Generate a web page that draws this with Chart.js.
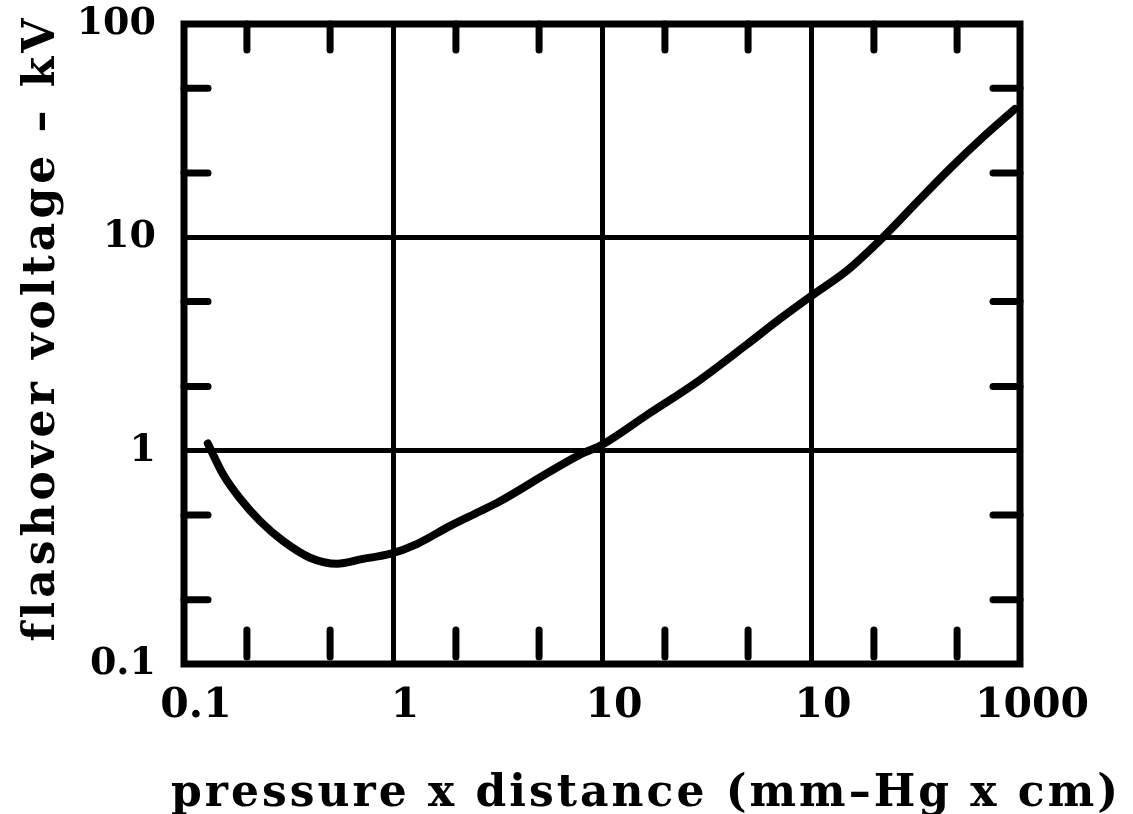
<!DOCTYPE html>
<html>
<head>
<meta charset="utf-8">
<script src="https://cdn.jsdelivr.net/npm/chart.js@4/dist/chart.umd.min.js"></script>
<style>
  html, body { margin: 0; padding: 0; background: #fff; }
  #wrap { width: 1133px; height: 814px; position: relative; }
</style>
</head>
<body>
<div id="wrap"><canvas id="paschen"></canvas></div>
<script>
// axis ticks
const xTicks = [0.1, 1, 10, 100, 1000];
const xTickLabels = ['0.1', '1', '10', '10', '1000'];
const yTicks = [0.1, 1, 10, 100];
const yTickLabels = ['0.1', '1', '10', '100'];
const xMinor = [0.2, 0.5, 2, 5, 20, 50, 200, 500];
const yMinor = [0.2, 0.5, 2, 5, 20, 50];

const xTitle = 'pressure x distance (mm\u2013Hg x cm)';
const yTitle = 'flashover voltage \u2013 kV';

// curve
const pd = [0.13, 0.154, 0.185, 0.231, 0.298, 0.401, 0.54, 0.718, 0.968, 1.3, 1.87, 2.61, 3.25,
  5.64, 7.85, 10, 16.4, 28.5, 49.4, 71.1, 100, 149, 221, 321, 462, 665, 946];
const kv = [1.08, 0.773, 0.598, 0.468, 0.377, 0.315, 0.295, 0.311, 0.328, 0.365, 0.443, 0.52, 0.579,
  0.798, 0.958, 1.066, 1.47, 2.1, 3.15, 4.15, 5.3, 7.0, 10, 14.6, 21, 29.5, 40];

const FONT = "'DejaVu Serif', serif";

// frame, inward minor ticks and axis titles
const frameTicks = {
  id: 'frameTicks',
  afterDatasetsDraw(chart) {
    const ctx = chart.ctx;
    const a = chart.chartArea;
    const xs = chart.scales.x, ys = chart.scales.y;
    ctx.save();
    ctx.strokeStyle = '#000';
    ctx.lineCap = 'round';
    ctx.lineWidth = 7;
    xMinor.forEach(v => {
      const px = xs.getPixelForValue(v);
      ctx.beginPath(); ctx.moveTo(px, a.bottom - 7); ctx.lineTo(px, a.bottom - 34); ctx.stroke();
      ctx.beginPath(); ctx.moveTo(px, a.top); ctx.lineTo(px, a.top + 26); ctx.stroke();
    });
    yMinor.forEach(v => {
      const py = ys.getPixelForValue(v);
      ctx.beginPath(); ctx.moveTo(a.left, py); ctx.lineTo(a.left + 24, py); ctx.stroke();
      ctx.beginPath(); ctx.moveTo(a.right, py); ctx.lineTo(a.right - 27, py); ctx.stroke();
    });
    ctx.lineCap = 'square';
    ctx.strokeRect(a.left, a.top, a.right - a.left, a.bottom - a.top);

    ctx.fillStyle = '#000';
    ctx.font = 'bold 44px ' + FONT;
    ctx.letterSpacing = '3px';
    ctx.textAlign = 'center';
    ctx.textBaseline = 'alphabetic';
    ctx.fillText(xTitle, 646, 806);
    ctx.letterSpacing = '4px';
    ctx.translate(54, 328);
    ctx.rotate(-Math.PI / 2);
    ctx.fillText(yTitle, 0, 0);
    ctx.restore();
  }
};

new Chart(document.getElementById('paschen'), {
  type: 'line',
  data: {
    datasets: [{
      data: pd.map((x, i) => ({ x: x, y: kv[i] })),
      borderColor: '#000',
      borderWidth: 8,
      borderCapStyle: 'round',
      pointRadius: 0,
      cubicInterpolationMode: 'monotone',
      fill: false,
      clip: false
    }]
  },
  options: {
    responsive: true,
    maintainAspectRatio: false,
    animation: false,
    layout: { padding: { top: 0, right: 113, left: 0, bottom: 0 } },
    plugins: { legend: { display: false }, tooltip: { enabled: false } },
    scales: {
      x: {
        type: 'logarithmic',
        min: 0.1,
        max: 1000,
        afterBuildTicks: s => { s.ticks = xTicks.map(v => ({ value: v })); },
        afterFit: s => { s.height = 150; s.paddingLeft = 0; s.paddingRight = 0; },
        border: { display: false },
        grid: { color: '#000', lineWidth: 5, drawTicks: false },
        ticks: {
          color: '#000',
          font: { family: FONT, size: 41, weight: 'bold' },
          padding: 18,
          labelOffset: 12,
          maxRotation: 0,
          callback: (v, i) => xTickLabels[i]
        }
      },
      y: {
        type: 'logarithmic',
        min: 0.1,
        max: 100,
        afterBuildTicks: s => { s.ticks = yTicks.map(v => ({ value: v })); },
        afterFit: s => { s.width = 184; s.paddingTop = 24; s.paddingBottom = 0; },
        border: { display: false },
        grid: { color: '#000', lineWidth: 5, drawTicks: false },
        ticks: {
          color: '#000',
          font: { family: FONT, size: 38, weight: 'bold' },
          padding: 28,
          callback: (v, i) => yTickLabels[i]
        }
      }
    }
  },
  plugins: [frameTicks]
});
</script>
</body>
</html>
